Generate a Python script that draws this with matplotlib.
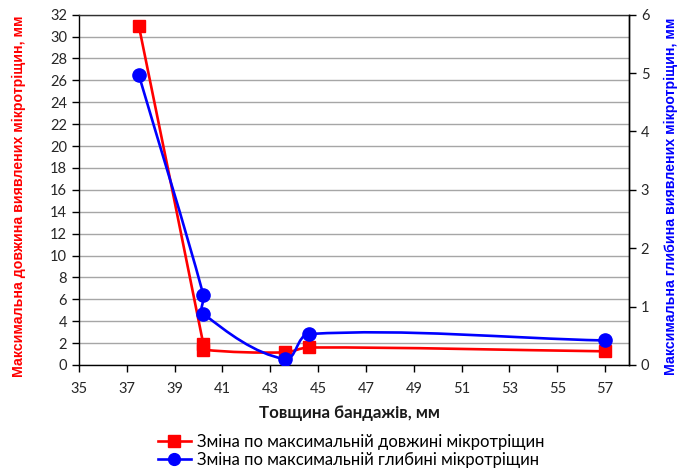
import numpy as np
import matplotlib
matplotlib.use("Agg")
import matplotlib.pyplot as plt
from matplotlib.path import Path
from matplotlib.patches import PathPatch
from matplotlib.lines import Line2D

# ---- data ----
thickness_len = [37.5, 40.2, 40.2, 43.6, 44.6, 57.0]
length_mm = [31.0, 1.9, 1.4, 1.15, 1.6, 1.25]
thickness_depth = [37.5, 40.2, 40.2, 43.6, 44.6, 57.0]
depth_mm = [4.97, 1.2, 0.88, 0.1, 0.53, 0.42]

x_ticks = list(range(35, 58, 2))
left_ticks = list(range(0, 33, 2))
right_ticks = list(range(0, 7))

label_len = "Зміна по максимальній довжині мікротріщин"
label_depth = "Зміна по максимальній глибині мікротріщин"
xlabel = "Товщина бандажів, мм"
ylabel_left = "Максимальна довжина виявлених мікротріщин, мм"
ylabel_right = "Максимальна глибина виявлених мікротріщин, мм"

RED = "#ff0000"
BLUE = "#0000ff"
TICKC = "#262626"
FONT = "Lato"


def smooth_path(ax, xs, ys):
    pts = ax.transData.transform(np.column_stack([xs, ys]))
    n = len(pts)

    def unit(v):
        nv = np.linalg.norm(v)
        return v / nv if nv > 0 else v * 0

    verts = [pts[0]]
    codes = [Path.MOVETO]
    for i in range(n - 1):
        p0 = pts[i - 1] if i > 0 else pts[i]
        p1 = pts[i]
        p2 = pts[i + 1]
        p3 = pts[i + 2] if i + 2 < n else pts[i + 1]
        seg = np.linalg.norm(p2 - p1)
        c1 = p1 + unit(p2 - p0) * seg / 3.0
        c2 = p2 - unit(p3 - p1) * seg / 3.0
        verts += [c1, c2, p2]
        codes += [Path.CURVE4] * 3
    inv = ax.transData.inverted()
    return Path(inv.transform(np.array(verts)), codes)


fig = plt.figure(figsize=(6.78, 4.70), dpi=100)
ax = fig.add_axes([79 / 678, 1 - 365 / 470, 550 / 678, 350.3 / 470])
ax2 = ax.twinx()

ax.set_xlim(35, 58)
ax.set_ylim(0, 32)
ax2.set_ylim(0, 6)

ax.set_xticks(x_ticks)
ax.set_yticks(left_ticks)
ax2.set_yticks(right_ticks)

ax.grid(axis="y", color="#a6a6a6", lw=1.0)
ax.grid(axis="x", visible=False)
ax.set_axisbelow(True)

for s in ["left", "bottom", "right"]:
    ax.spines[s].set_color("black")
    ax.spines[s].set_linewidth(1.0)
ax.spines["top"].set_color("#303030")
ax.spines["top"].set_linewidth(1.0)
for s in ["left", "bottom", "top"]:
    ax2.spines[s].set_visible(False)
ax2.spines["right"].set_color("black")
ax2.spines["right"].set_linewidth(1.0)

ax.tick_params(axis="both", direction="out", length=5, width=1, colors="black",
               labelcolor=TICKC, labelsize=10.5)
ax2.tick_params(axis="y", direction="out", length=5, width=1, colors="black",
                labelcolor=TICKC, labelsize=10.5)
for lab in ax.get_xticklabels() + ax.get_yticklabels() + ax2.get_yticklabels():
    lab.set_fontfamily(FONT)
ax.tick_params(axis="x", pad=7)

# red series (left axis)
p_red = smooth_path(ax, thickness_len, length_mm)
ax.add_patch(PathPatch(p_red, facecolor="none", edgecolor=RED, lw=1.9, zorder=3))
ax.plot(thickness_len, length_mm, linestyle="none", marker="s", ms=8.5,
        color=RED, zorder=4)

# blue series (right axis)
p_blue = smooth_path(ax2, thickness_depth, depth_mm)
ax2.add_patch(PathPatch(p_blue, facecolor="none", edgecolor=BLUE, lw=1.9, zorder=3))
ax2.plot(thickness_depth, depth_mm, linestyle="none", marker="o", ms=9.5,
         color=BLUE, zorder=4)

# labels
fig.text(349 / 678, 1 - 412.7 / 470, xlabel, ha="center", va="center",
         fontsize=12.2, fontweight="bold", family=FONT, color="#1a1a1a")
fig.text(19 / 678, 1 - 196 / 470, ylabel_left, rotation=90, ha="center",
         va="center", fontsize=10.2, fontweight="bold", family="Liberation Sans",
         color=RED)
fig.text(664 / 678, 1 - 196 / 470, ylabel_right, rotation=90, ha="left",
         va="center", fontsize=10.2, fontweight="bold", family="Liberation Sans",
         color=BLUE)

handles = [
    Line2D([], [], color=RED, lw=1.9, marker="s", ms=8),
    Line2D([], [], color=BLUE, lw=1.9, marker="o", ms=8.5),
]
fig.legend(handles, [label_len, label_depth], loc="center",
           bbox_to_anchor=(351 / 678, 1 - 451 / 470), frameon=False,
           handlelength=2.0, handletextpad=0.35, labelspacing=0.1,
           prop={"family": FONT, "size": 12}, borderpad=0)

fig.savefig("out.png", dpi=100)
